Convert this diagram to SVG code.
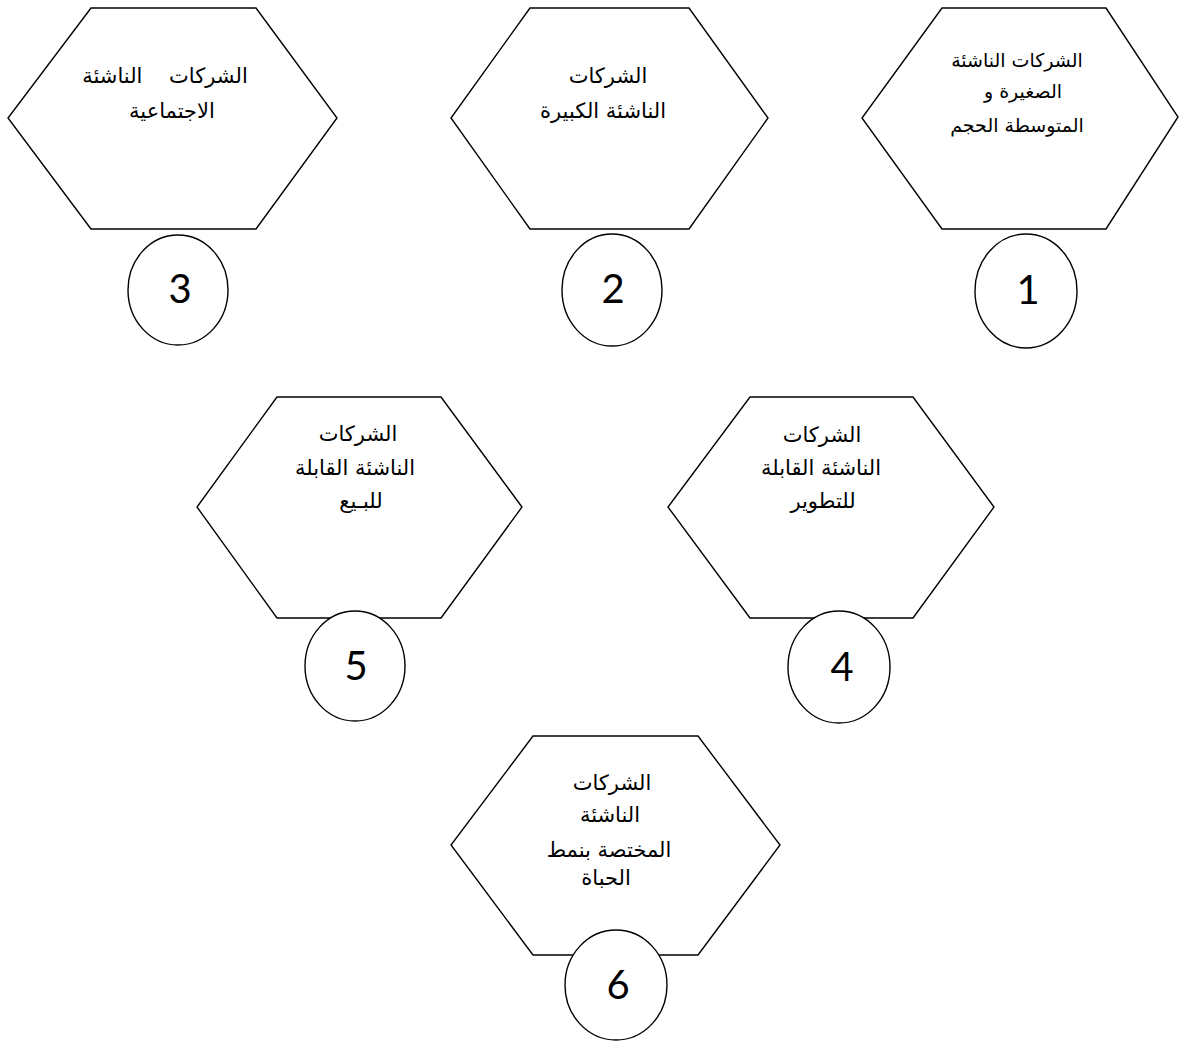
<svg xmlns="http://www.w3.org/2000/svg" width="1179" height="1041" viewBox="0 0 1179 1041">
<style>
.hex{fill:#fff;stroke:#000;stroke-width:1.4}
.cir{fill:#fff;stroke:#000;stroke-width:1.4}
.ar{font-family:"DejaVu Sans","Liberation Sans",sans-serif;font-size:21px;fill:#000;text-anchor:middle;direction:rtl;white-space:pre}
.ar1{font-size:19px}
.num{font-family:Lato,"Open Sans",sans-serif;font-size:40px;fill:#000;text-anchor:middle}
</style>
<rect width="1179" height="1041" fill="#fff"/>
<g id="node3">
<polygon class="hex" points="91,8 256,8 337,118 256,229 91,229 8,118"/>
<text class="ar" x="165" y="83" xml:space="preserve">الشركات    الناشئة</text>
<text class="ar" x="172" y="118">الاجتماعية</text>
<ellipse class="cir" cx="178" cy="290" rx="50" ry="55"/>
<text class="num" x="180" y="303">3</text>
</g>
<g id="node2">
<polygon class="hex" points="530,8 689,8 768,118 689,229 530,229 451,118"/>
<text class="ar" x="608" y="83">الشركات</text>
<text class="ar" x="603" y="118">الناشئة الكبيرة</text>
<ellipse class="cir" cx="612" cy="290" rx="50" ry="56"/>
<text class="num" x="613" y="303">2</text>
</g>
<g id="node1">
<polygon class="hex" points="942,8 1106,8 1178,117 1106,229 942,229 862,118"/>
<text class="ar ar1" x="1017" y="67">الشركات الناشئة</text>
<text class="ar ar1" x="1023" y="98">الصغيرة و</text>
<text class="ar ar1" x="1017" y="132">المتوسطة الحجم</text>
<ellipse class="cir" cx="1026" cy="291" rx="51" ry="57"/>
<text class="num" x="1028" y="304">1</text>
</g>
<g id="node5">
<polygon class="hex" points="277,397 441,397 522,507 441,618 277,618 197,507"/>
<text class="ar" x="358" y="441">الشركات</text>
<text class="ar" x="355" y="475">الناشئة القابلة</text>
<text class="ar" x="361" y="508">للبـيع</text>
<ellipse class="cir" cx="355" cy="666" rx="50" ry="55"/>
<text class="num" x="356" y="680">5</text>
</g>
<g id="node4">
<polygon class="hex" points="750,397 913,397 994,507 913,618 750,618 668,507"/>
<text class="ar" x="822" y="442">الشركات</text>
<text class="ar" x="821" y="475">الناشئة القابلة</text>
<text class="ar" x="823" y="508">للتطوير</text>
<ellipse class="cir" cx="839" cy="667" rx="51" ry="56"/>
<text class="num" x="842" y="681">4</text>
</g>
<g id="node6">
<polygon class="hex" points="533,736 698,736 780,845 698,955 533,955 451,845"/>
<text class="ar" x="612" y="790">الشركات</text>
<text class="ar" x="610" y="822">الناشئة</text>
<text class="ar" x="609" y="857">المختصة بنمط</text>
<text class="ar" x="606" y="885">الحباة</text>
<ellipse class="cir" cx="616" cy="985" rx="51" ry="55"/>
<text class="num" x="618" y="999">6</text>
</g>
<g id="connectors"></g>
</svg>
